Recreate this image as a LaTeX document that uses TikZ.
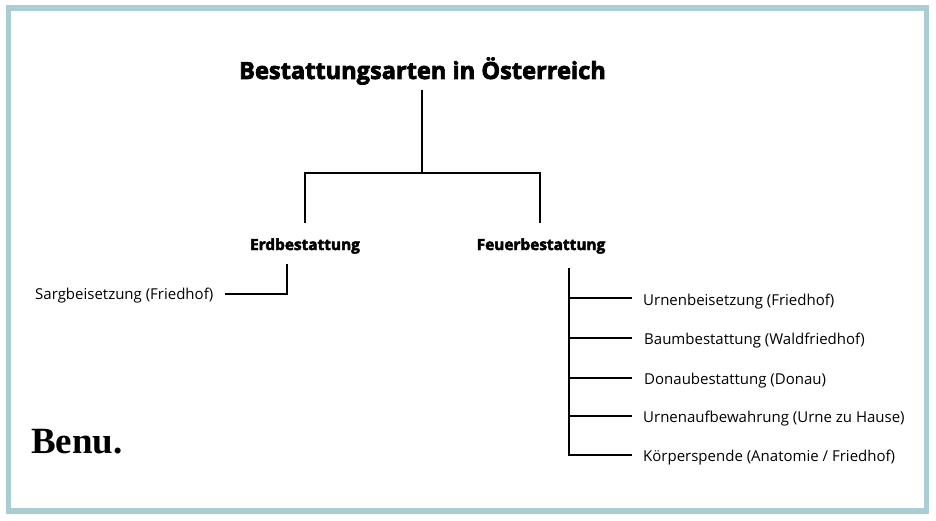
\documentclass[tikz,border=0pt]{standalone}
\usepackage{fontspec}
\usepackage{xcolor}
\setmainfont{Open Sans}[BoldFeatures={FakeBold=3}]
\newfontfamily\logofont{Liberation Serif}
\usetikzlibrary{positioning}
\definecolor{framecolor}{RGB}{170,205,212}

\begin{document}
\begin{tikzpicture}[
	x=1pt, y=-1pt,
	title/.style={font=\fontsize{23.6}{26}\selectfont\bfseries, text=black, inner sep=0pt},
	branch/.style={font=\fontsize{15.4}{17}\selectfont\bfseries, text=black, inner sep=0pt},
	leaf/.style={font=\fontsize{15}{17}\selectfont, text=black, inner sep=0pt, anchor=west},
	tree/.style={draw=black, line width=2.2pt, line cap=rect}
	]
	\useasboundingbox (0,0) rectangle (936,520);
	\fill[white] (0,0) rectangle (936,520);
	\draw[framecolor, line width=5.5pt] (8.7,8.2) rectangle (926.7,511);

	% Ueberschriften
	\node[title]  (root) at (422.5, 71)  {Bestattungsarten in Österreich};
	\node[branch] (erd)  at (305, 246) {Erdbestattung};
	\node[branch] (feuer) at (541, 246) {Feuerbestattung};

	% Blaetter
	\node[leaf] (sarg)  at (35, 296)   {Sargbeisetzung (Friedhof)};
	\node[leaf] (urne)  at (643, 302)  {Urnenbeisetzung (Friedhof)};
	\node[leaf] (baum)  at (644, 341)  {Baumbestattung (Waldfriedhof)};
	\node[leaf] (donau) at (644, 381)  {Donaubestattung (Donau)};
	\node[leaf] (heim)  at (643, 419)  {Urnenaufbewahrung (Urne zu Hause)};
	\node[leaf] (koerper) at (643, 458) {Körperspende (Anatomie / Friedhof)};

	\node[font=\logofont\fontsize{37}{42}\selectfont\bfseries, inner sep=0pt, anchor=base west] (logo) at (31, 453) {Benu.};

	% Verbindungen
	\coordinate (stem) at (422, 91);
	\coordinate (fork) at (422, 173);
	\coordinate (erdtop) at (305, 222);
	\coordinate (feuertop) at (540, 222);
	\draw[tree] (stem) -- (fork);
	\draw[tree] (erdtop) |- (fork) -| (feuertop);

	\coordinate (erdstem) at (287, 265);
	\coordinate (sargend) at (226, 294);
	\draw[tree] (erdstem) |- (sargend);

	\coordinate (feuerstem) at (569, 269);
	\coordinate (b1) at (631, 298);
	\coordinate (b2) at (631, 338);
	\coordinate (b3) at (631, 378);
	\coordinate (b4) at (631, 416);
	\coordinate (b5) at (631, 455);
	\draw[tree] (feuerstem) |- (b5);
	\foreach \b in {b1,b2,b3,b4}
		\draw[tree] (\b) -- (feuerstem |- \b);
\end{tikzpicture}
\end{document}
